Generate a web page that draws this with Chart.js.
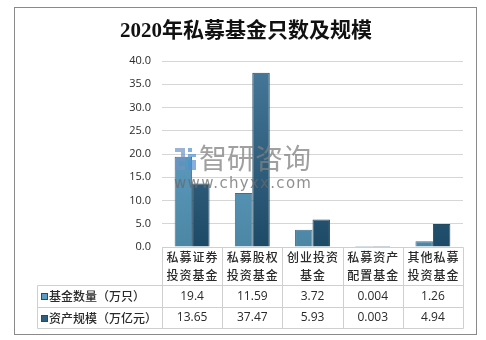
<!DOCTYPE html>
<html>
<head>
<meta charset="utf-8">
<script src="https://cdn.jsdelivr.net/npm/chart.js@4/dist/chart.umd.min.js"></script>
<style>
  html, body { margin: 0; padding: 0; background: #ffffff; }
  #wrap { width: 486px; height: 340px; position: relative; }
</style>
</head>
<body>
<div id="wrap"><canvas id="c" width="486" height="340"></canvas></div>
<script>
// 2020 private fund counts and assets by fund type
const titleText = '2020年私募基金只数及规模';
const categories = [
  ['私募证券', '投资基金'],
  ['私募股权', '投资基金'],
  ['创业投资', '基金'],
  ['私募资产', '配置基金'],
  ['其他私募', '投资基金']
];
const seriesNames = ['基金数量（万只）', '资产规模（万亿元）'];
const fundCount = [19.4, 11.59, 3.72, 0.004, 1.26];
const assetScale = [13.65, 37.47, 5.93, 0.003, 4.94];
const countLabels = ['19.4', '11.59', '3.72', '0.004', '1.26'];
const scaleLabels = ['13.65', '37.47', '5.93', '0.003', '4.94'];
const yMin = 0, yMax = 40, yStep = 5;

const CJK = "'Noto Sans CJK SC', 'Noto Sans', sans-serif";
const seriesSwatch = ['#5a9cc2', '#2f5f80'];

function barGradient(ctx, chart, top, bottom) {
  const area = chart.chartArea;
  if (!area) return top;
  const g = ctx.createLinearGradient(0, area.top, 0, area.bottom);
  g.addColorStop(0, top);
  g.addColorStop(1, bottom);
  return g;
}

// frame, title, data table and watermark
const decorations = {
  id: 'decorations',
  beforeDraw(chart) {
    const ctx = chart.ctx;
    ctx.save();
    ctx.fillStyle = '#ffffff';
    ctx.fillRect(0, 0, chart.width, chart.height);
    ctx.strokeStyle = '#8a8a8a';
    ctx.lineWidth = 1;
    ctx.strokeRect(14.5, 7.5, 462, 327);
    ctx.fillStyle = '#111111';
    ctx.font = "bold 21px 'Liberation Serif', " + CJK;
    ctx.textAlign = 'center';
    ctx.textBaseline = 'middle';
    ctx.fillText(titleText, 246, 32);
    ctx.restore();
  },
  afterDatasetsDraw(chart) {
    const ctx = chart.ctx;
    const area = chart.chartArea;
    ctx.save();
    // watermark
    const wx = area.left + 13, wy = area.top + 87;
    ctx.globalAlpha = 0.7;
    ctx.fillStyle = '#6f93c4';
    ctx.fillRect(wx, wy, 10, 4);
    ctx.fillRect(wx + 6, wy + 4, 4, 6);
    ctx.fillRect(wx, wy + 10, 10, 3);
    ctx.fillRect(wx, wy + 13, 4, 5);
    ctx.fillRect(wx, wy + 18, 10, 4);
    ctx.fillStyle = '#4f8fd0';
    ctx.fillRect(wx + 13, wy, 4, 4);
    ctx.fillRect(wx + 13, wy + 6, 8, 3);
    ctx.fillRect(wx + 13, wy + 12, 8, 10);
    ctx.globalAlpha = 0.75;
    ctx.fillStyle = '#808080';
    ctx.font = "28px " + CJK;
    ctx.textAlign = 'left';
    ctx.textBaseline = 'middle';
    ctx.fillText('智研咨询', wx + 24, wy + 10);
    ctx.fillStyle = '#6a6a6a';
    ctx.font = "15px 'DejaVu Sans', sans-serif";
    ctx.letterSpacing = '1.3px';
    ctx.fillText('www.chyxx.com', wx - 1, wy + 36);
    ctx.letterSpacing = '0px';
    ctx.restore();
  },
  afterDraw(chart) {
    const ctx = chart.ctx;
    const area = chart.chartArea;
    const x = chart.scales.x;
    const half = (x.getPixelForValue(1) - x.getPixelForValue(0)) / 2;
    const left = 37.5;
    const y0 = Math.round(area.bottom) + 0.5;
    const rowTop = [y0, y0 + 38, y0 + 60, y0 + 81];
    ctx.save();
    ctx.strokeStyle = '#cfcfcf';
    ctx.lineWidth = 1;
    ctx.beginPath();
    // horizontal rules
    ctx.moveTo(Math.round(area.left) + 0.5, rowTop[0]); ctx.lineTo(Math.round(area.right) + 0.5, rowTop[0]);
    for (let r = 1; r < rowTop.length; r++) {
      ctx.moveTo(left, rowTop[r]); ctx.lineTo(Math.round(area.right) + 0.5, rowTop[r]);
    }
    // vertical rules
    for (let i = 0; i <= categories.length; i++) {
      const px = Math.round(x.getPixelForValue(i) - half) + 0.5;
      ctx.moveTo(px, rowTop[0]); ctx.lineTo(px, rowTop[3]);
    }
    ctx.moveTo(left, rowTop[1]); ctx.lineTo(left, rowTop[3]);
    ctx.stroke();

    ctx.fillStyle = '#2a2a2a';
    ctx.textBaseline = 'middle';
    ctx.textAlign = 'center';
    ctx.font = "500 12px " + CJK;
    ctx.letterSpacing = '1px';
    categories.forEach((lines, i) => {
      const cx = x.getPixelForValue(i) + 0.5;
      lines.forEach((t, k) => ctx.fillText(t, cx, rowTop[0] + 10 + k * 18));
    });
    ctx.letterSpacing = '0px';
    ctx.font = "12px 'Open Sans', 'Liberation Sans', sans-serif";
    const rows = [countLabels, scaleLabels];
    rows.forEach((vals, r) => {
      const cy = (rowTop[r + 1] + rowTop[r + 2]) / 2;
      vals.forEach((v, i) => ctx.fillText(v, x.getPixelForValue(i), cy));
    });
    // row headers with series swatches
    ctx.textAlign = 'left';
    ctx.font = "500 12px " + CJK;
    seriesNames.forEach((name, r) => {
      const cy = (rowTop[r + 1] + rowTop[r + 2]) / 2;
      ctx.fillStyle = seriesSwatch[r];
      ctx.fillRect(41, Math.round(cy - 3.5), 7, 7);
      ctx.strokeStyle = '#2a4a60';
      ctx.strokeRect(41.5, Math.round(cy - 3.5) + 0.5, 6, 6);
      ctx.fillStyle = '#2a2a2a';
      ctx.fillText(name, 49, cy);
    });
    ctx.restore();
  }
};

new Chart(document.getElementById('c'), {
  type: 'bar',
  data: {
    labels: categories,
    datasets: [
      {
        label: seriesNames[0],
        data: fundCount,
        backgroundColor: (c) => barGradient(c.chart.ctx, c.chart, '#69abd0', '#4c86a5'),
        borderColor: '#3f6f8c',
        borderWidth: 1
      },
      {
        label: seriesNames[1],
        data: assetScale,
        backgroundColor: (c) => barGradient(c.chart.ctx, c.chart, '#48799b', '#1d4a66'),
        borderColor: '#234a63',
        borderWidth: 1
      }
    ]
  },
  options: {
    responsive: false,
    animation: false,
    devicePixelRatio: 1,
    layout: { padding: { left: 0, right: 23, top: 61, bottom: 93 } },
    plugins: { legend: { display: false }, title: { display: false }, tooltip: { enabled: false } },
    datasets: { bar: { categoryPercentage: 0.58, barPercentage: 1 } },
    scales: {
      x: { display: false },
      y: {
        min: yMin,
        max: yMax,
        ticks: {
          stepSize: yStep,
          padding: 11,
          color: '#2a2a2a',
          font: { family: "'Open Sans', 'Liberation Sans', sans-serif", size: 11 },
          callback: (v) => v.toFixed(1)
        },
        grid: { color: '#d6d6d6', drawTicks: false },
        border: { display: false },
        afterFit: (s) => { s.width = 162; }
      }
    }
  },
  plugins: [decorations]
});
</script>
</body>
</html>
